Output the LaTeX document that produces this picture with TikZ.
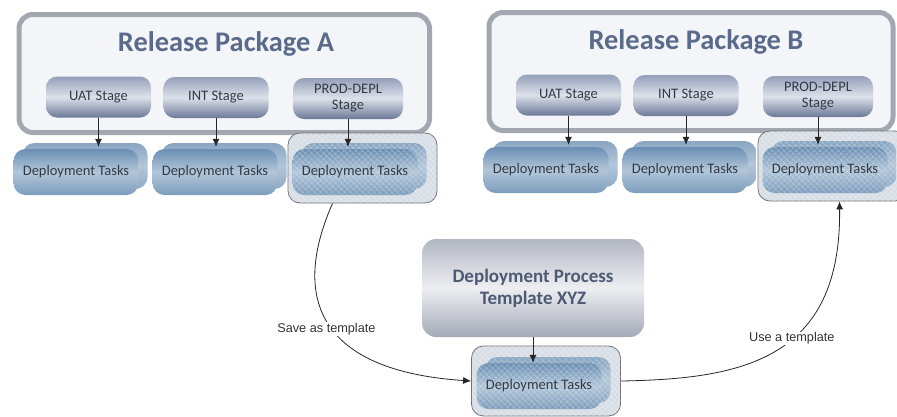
\documentclass[tikz,border=0pt]{standalone}
\usepackage{fontspec}
\setmainfont{Carlito}
\newfontfamily\labelfont{Liberation Sans}
\usetikzlibrary{arrows.meta,patterns.meta}

\definecolor{pkgborder}{HTML}{A3A7B0}
\definecolor{pkgfill}{HTML}{F4F5F8}
\definecolor{titlecol}{HTML}{5A6A8A}
\definecolor{stagetop}{HTML}{949FB9}
\definecolor{stagemid}{HTML}{DDE1EA}
\definecolor{stagebot}{HTML}{6B7897}
\definecolor{tasktop}{HTML}{6B8FB3}
\definecolor{taskmid}{HTML}{B2C6D9}
\definecolor{taskbot}{HTML}{7C9CBC}
\definecolor{textcol}{HTML}{333A46}
\definecolor{tpltop}{HTML}{B3B7C2}
\definecolor{tplmid}{HTML}{ECEEF2}
\definecolor{tplbot}{HTML}{A4A9B6}
\definecolor{tpltext}{HTML}{4E5A74}
\definecolor{framefill}{HTML}{D8DEE6}
\definecolor{framedraw}{HTML}{6E7076}

\begin{document}
\begin{tikzpicture}[x=1pt, y=-1pt,
    pkgbox/.style={draw=pkgborder, line width=5pt, fill=pkgfill, rounded corners=14pt,
      minimum height=118pt, anchor=north west, inner sep=0pt},
    pkgtitle/.style={anchor=base, text=titlecol, font=\bfseries\fontsize{28.4}{34}\selectfont},
    stagebox/.style={rounded corners=11pt, top color=stagetop, bottom color=stagebot,
      middle color=stagemid, minimum width=105pt, minimum height=41pt, inner sep=0pt,
      text=textcol, align=center, font=\fontsize{14.5}{16}\selectfont},
    taskbox/.style={rounded corners=12pt, top color=tasktop, bottom color=taskbot,
      middle color=taskmid, minimum width=125pt, minimum height=46pt, inner sep=0pt,
      text=textcol, font=\fontsize{14.5}{17}\selectfont},
    taskback/.style={taskbox, top color=tasktop!80!white, bottom color=taskbot!85!white,
      middle color=taskmid},
    plain/.style={},
    hatched/.style={postaction={fill opacity=.3, pattern color=white,
      pattern={Hatch[angle=45,distance=4pt,line width=.5pt]}}},
    framebox/.style={draw=framedraw, line width=.8pt, fill=framefill, rounded corners=12pt,
      hatched, minimum width=149pt, minimum height=70pt, inner sep=0pt},
    tplbox/.style={rounded corners=14pt, top color=tpltop, bottom color=tplbot,
      middle color=tplmid, minimum width=222pt, minimum height=98pt, text=tpltext,
      align=center, font=\bfseries\fontsize{19}{22}\selectfont},
    flow/.style={-{Latex[length=8pt,width=7pt]}, black!85, line width=.8pt},
    curvelabel/.style={fill=white, inner sep=1pt, text=black!80,
      font=\labelfont\fontsize{12.7}{14}\selectfont}]
    \useasboundingbox (0,0) rectangle (897,416);

    % release packages
    \foreach \p/\sx/\sy/\w in {A/0/0/410.5, B/470/-2/404} {
      \begin{scope}[shift={(\sx,\sy)}]
        \node[pkgbox, minimum width=\w pt] (pkg\p) at (16.5,12) {};
        \node[pkgtitle] (title\p) at (226,51) {Release Package \p};
        % stages
        \node[stagebox] (uat\p) at (98.5,97) {UAT Stage};
        \node[stagebox] (int\p) at (216,97.5) {INT Stage};
        \node[stagebox, minimum width=110pt] (prod\p) at (348,98.5) {PROD-DEPL\\Stage};
        % deployment tasks
        \node[framebox] (frame\p) at (362.5,168) {};
        \foreach \t/\x/\s in {uat/76/plain, int/215/plain, prod/355/hatched} {
          \node[taskback, \s] (back\t\p) at (\x+9,166) {};
          \node[taskbox, \s] (task\t\p) at (\x,172) {Deployment Tasks};
          \draw[flow, shorten >=2pt] (\t\p) -- (\t\p |- task\t\p.north);
        }
      \end{scope}
    }

    % template
    \node[tplbox] (tpl) at (533,288) {Deployment Process\\Template XYZ};
    \node[framebox] (frameT) at (546,381) {};
    \node[taskback, hatched] (backT) at (548,380) {};
    \node[taskbox, hatched] (taskT) at (539,386) {Deployment Tasks};
    \draw[flow] (tpl) -- (tpl |- taskT.north);

    % save and use
    \draw[flow] ([xshift=-30pt]frameA.south) .. controls +(-47,107) and +(-138,-9) ..
      node[curvelabel, pos=.5, xshift=-6pt] (save) {Save as template} (frameT.west);
    \draw[flow] (frameT.east) .. controls +(120,-2) and +(2,159) ..
      node[curvelabel, pos=.57] (use) {Use a template} ([xshift=7pt]frameB.south);
\end{tikzpicture}
\end{document}
